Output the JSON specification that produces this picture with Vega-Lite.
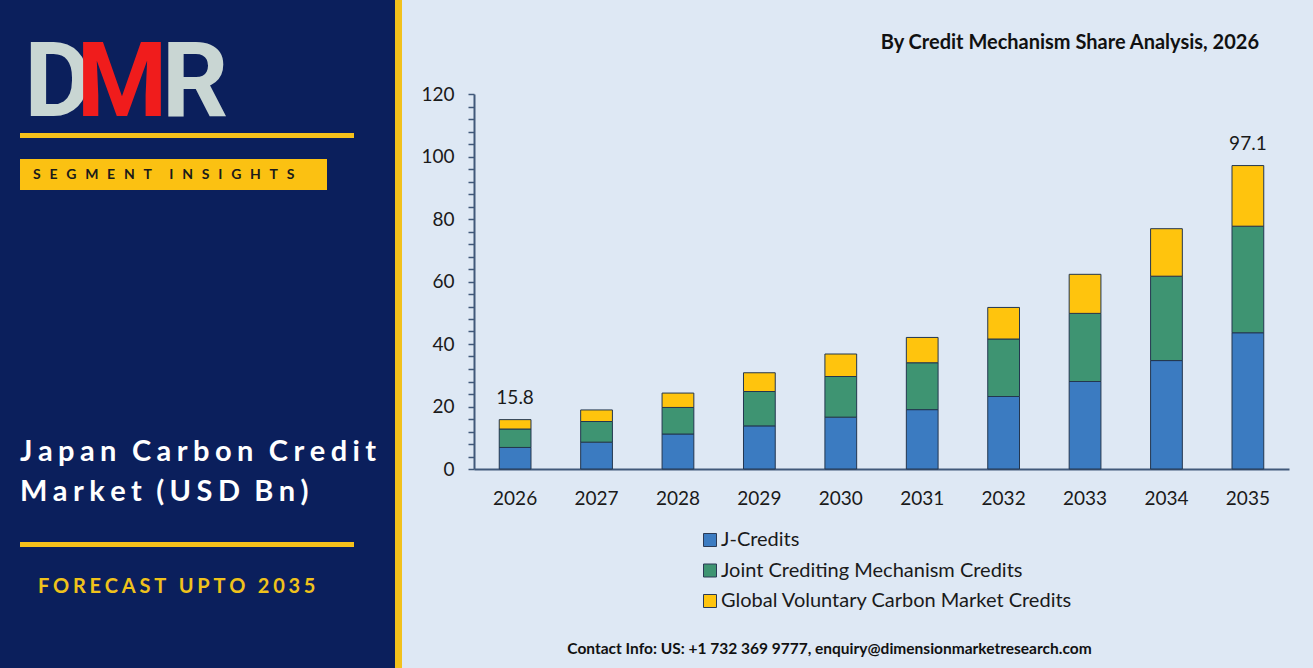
{
  "$schema": "https://vega.github.io/schema/vega-lite/v6.json",
  "background": "#dee8f4",
  "padding": {"left": 0, "top": 0, "right": 26, "bottom": 0},
  "spacing": 18,
  "config": {"view": {"stroke": null}, "font": "Lato"},
  "hconcat": [
    {
      "width": 402,
      "height": 668,
      "layer": [
        {
          "data": {"values": [{"part": "panel"}]},
          "mark": {"type": "rect", "color": "#0b1f5c"},
          "encoding": {
            "x": {"datum": 0, "type": "quantitative", "scale": {"domain": [0, 402], "nice": false, "zero": false}, "axis": null},
            "x2": {"datum": 395},
            "y": {"datum": 0, "type": "quantitative", "scale": {"domain": [668, 0], "nice": false, "zero": false}, "axis": null},
            "y2": {"datum": 668}
          }
        },
        {
          "data": {"values": [{"part": "strip"}]},
          "mark": {"type": "rect", "color": "#f2c11c"},
          "encoding": {
            "x": {"datum": 395, "type": "quantitative"},
            "x2": {"datum": 402},
            "y": {"datum": 0, "type": "quantitative"},
            "y2": {"datum": 668}
          }
        },
        {
          "data": {"values": [{"part": "line1"}]},
          "mark": {"type": "rect", "color": "#f6c11a"},
          "encoding": {
            "x": {"datum": 20, "type": "quantitative"},
            "x2": {"datum": 354},
            "y": {"datum": 133, "type": "quantitative"},
            "y2": {"datum": 138}
          }
        },
        {
          "data": {"values": [{"part": "line2"}]},
          "mark": {"type": "rect", "color": "#f6c11a"},
          "encoding": {
            "x": {"datum": 20, "type": "quantitative"},
            "x2": {"datum": 354},
            "y": {"datum": 542, "type": "quantitative"},
            "y2": {"datum": 547}
          }
        },
        {
          "data": {"values": [{"part": "box"}]},
          "mark": {"type": "rect", "color": "#fbc112"},
          "encoding": {
            "x": {"datum": 20, "type": "quantitative"},
            "x2": {"datum": 327},
            "y": {"datum": 159, "type": "quantitative"},
            "y2": {"datum": 190}
          }
        },
        {
          "data": {"values": [{"t": "D"}]},
          "mark": {"type": "text", "font": "Roboto", "fontWeight": "bold", "fontSize": 104, "color": "#c9d6d3", "align": "center", "baseline": "alphabetic"},
          "encoding": {
            "x": {"datum": 58, "type": "quantitative"},
            "y": {"datum": 116, "type": "quantitative"},
            "text": {"field": "t"}
          }
        },
        {
          "data": {"values": [{"t": "M"}]},
          "mark": {"type": "text", "font": "Roboto", "fontWeight": "bold", "fontSize": 104, "color": "#f01c1c", "align": "center", "baseline": "alphabetic"},
          "encoding": {
            "x": {"datum": 122, "type": "quantitative"},
            "y": {"datum": 116, "type": "quantitative"},
            "text": {"field": "t"}
          }
        },
        {
          "data": {"values": [{"t": "R"}]},
          "mark": {"type": "text", "font": "Roboto", "fontWeight": "bold", "fontSize": 104, "color": "#c9d6d3", "align": "center", "baseline": "alphabetic"},
          "encoding": {
            "x": {"datum": 195, "type": "quantitative"},
            "y": {"datum": 116, "type": "quantitative"},
            "text": {"field": "t"}
          }
        },
        {
          "data": {"values": [{"t": "S\u2002\u200a\u200aE\u2002\u200a\u200aG\u2002\u200a\u200aM\u2002\u200a\u200aE\u2002\u200a\u200aN\u2002\u200a\u200aT\u2003\u2002I\u2002\u200a\u200aN\u2002\u200a\u200aS\u2002\u200a\u200aI\u2002\u200a\u200aG\u2002\u200a\u200aH\u2002\u200a\u200aT\u2002\u200a\u200aS"}]},
          "mark": {"type": "text", "font": "Lato", "fontWeight": "bold", "fontSize": 14, "color": "#1a1a1a", "align": "left", "baseline": "middle"},
          "encoding": {
            "x": {"datum": 33, "type": "quantitative"},
            "y": {"datum": 175, "type": "quantitative"},
            "text": {"field": "t"}
          }
        },
        {
          "data": {"values": [{"t": "J\u2009\u200aa\u2009\u200ap\u2009\u200aa\u2009\u200an \u2009\u2006C\u2009\u200aa\u2009\u200ar\u2009\u200ab\u2009\u200ao\u2009\u200an \u2009\u2006C\u2009\u200ar\u2009\u200ae\u2009\u200ad\u2009\u200ai\u2009\u200at"}]},
          "mark": {"type": "text", "font": "Lato", "fontWeight": "bold", "fontSize": 29, "color": "#ffffff", "align": "left", "baseline": "alphabetic"},
          "encoding": {
            "x": {"datum": 20, "type": "quantitative"},
            "y": {"datum": 461, "type": "quantitative"},
            "text": {"field": "t"}
          }
        },
        {
          "data": {"values": [{"t": "M\u2009\u200aa\u2009\u200ar\u2009\u200ak\u2009\u200ae\u2009\u200at \u2009\u2009(\u2009\u200aU\u2009\u200aS\u2009\u200aD \u2009\u2009B\u2009\u200an\u2009\u200a)"}]},
          "mark": {"type": "text", "font": "Lato", "fontWeight": "bold", "fontSize": 29, "color": "#ffffff", "align": "left", "baseline": "alphabetic"},
          "encoding": {
            "x": {"datum": 20, "type": "quantitative"},
            "y": {"datum": 501, "type": "quantitative"},
            "text": {"field": "t"}
          }
        },
        {
          "data": {"values": [{"t": "F\u2009\u200aO\u2009\u200aR\u2009\u200aE\u2009\u200aC\u2009\u200aA\u2009\u200aS\u2009\u200aT\u2002\u2009U\u2009\u200aP\u2009\u200aT\u2009\u200aO\u2002\u20092\u2009\u200a0\u2009\u200a3\u2009\u200a5"}]},
          "mark": {"type": "text", "font": "Lato", "fontWeight": "bold", "fontSize": 20, "color": "#f0c21b", "align": "left", "baseline": "alphabetic"},
          "encoding": {
            "x": {"datum": 38, "type": "quantitative"},
            "y": {"datum": 593, "type": "quantitative"},
            "text": {"field": "t"}
          }
        }
      ]
    },
    {
      "width": 815,
      "height": 469,
      "title": {
        "text": "By Credit Mechanism Share Analysis, 2026",
        "anchor": "end",
        "dx": -30,
        "font": "Lato",
        "fontSize": 20,
        "fontWeight": "bold",
        "color": "#111111",
        "baseline": "bottom",
        "offset": -73
      },
      "layer": [
        {
          "data": {
            "values": [
              {"year": "2026", "segment": "J-Credits", "value": 6.9},
              {"year": "2026", "segment": "Joint Crediting Mechanism Credits", "value": 5.9},
              {"year": "2026", "segment": "Global Voluntary Carbon Market Credits", "value": 3.0},
              {"year": "2027", "segment": "J-Credits", "value": 8.6},
              {"year": "2027", "segment": "Joint Crediting Mechanism Credits", "value": 6.6},
              {"year": "2027", "segment": "Global Voluntary Carbon Market Credits", "value": 3.7},
              {"year": "2028", "segment": "J-Credits", "value": 11.2},
              {"year": "2028", "segment": "Joint Crediting Mechanism Credits", "value": 8.5},
              {"year": "2028", "segment": "Global Voluntary Carbon Market Credits", "value": 4.6},
              {"year": "2029", "segment": "J-Credits", "value": 13.8},
              {"year": "2029", "segment": "Joint Crediting Mechanism Credits", "value": 11.0},
              {"year": "2029", "segment": "Global Voluntary Carbon Market Credits", "value": 6.0},
              {"year": "2030", "segment": "J-Credits", "value": 16.6},
              {"year": "2030", "segment": "Joint Crediting Mechanism Credits", "value": 13.0},
              {"year": "2030", "segment": "Global Voluntary Carbon Market Credits", "value": 7.2},
              {"year": "2031", "segment": "J-Credits", "value": 19.0},
              {"year": "2031", "segment": "Joint Crediting Mechanism Credits", "value": 15.0},
              {"year": "2031", "segment": "Global Voluntary Carbon Market Credits", "value": 8.1},
              {"year": "2032", "segment": "J-Credits", "value": 23.2},
              {"year": "2032", "segment": "Joint Crediting Mechanism Credits", "value": 18.4},
              {"year": "2032", "segment": "Global Voluntary Carbon Market Credits", "value": 10.1},
              {"year": "2033", "segment": "J-Credits", "value": 28.0},
              {"year": "2033", "segment": "Joint Crediting Mechanism Credits", "value": 21.8},
              {"year": "2033", "segment": "Global Voluntary Carbon Market Credits", "value": 12.5},
              {"year": "2034", "segment": "J-Credits", "value": 34.7},
              {"year": "2034", "segment": "Joint Crediting Mechanism Credits", "value": 27.0},
              {"year": "2034", "segment": "Global Voluntary Carbon Market Credits", "value": 15.2},
              {"year": "2035", "segment": "J-Credits", "value": 43.6},
              {"year": "2035", "segment": "Joint Crediting Mechanism Credits", "value": 34.1},
              {"year": "2035", "segment": "Global Voluntary Carbon Market Credits", "value": 19.4}
            ]
          },
          "mark": {"type": "bar", "stroke": "#23364f", "strokeWidth": 1},
          "encoding": {
            "x": {
              "field": "year",
              "type": "ordinal",
              "scale": {"paddingInner": 0.61, "paddingOuter": 0.31},
              "axis": {
                "title": "Contact Info: US: +1 732 369 9777, enquiry@dimensionmarketresearch.com",
                "titleX": 355,
                "titleY": 179,
                "titleFont": "Lato",
                "titleFontSize": 15.5,
                "titleFontWeight": "bold",
                "titleColor": "#111111",
                "titleAlign": "center",
                "titleBaseline": "middle",
                "labelAngle": 0,
                "labelFont": "Lato",
                "labelFontSize": 19,
                "labelColor": "#1a1a1a",
                "labelPadding": 20,
                "ticks": false,
                "tickSize": 0,
                "domainColor": "#41597a",
                "domainWidth": 2
              }
            },
            "y": {
              "field": "value",
              "type": "quantitative",
              "stack": "zero",
              "scale": {"domain": [0, 120], "nice": false, "range": [469, 94]},
              "axis": {
                "title": null,
                "values": [0, 4, 8, 12, 16, 20, 24, 28, 32, 36, 40, 44, 48, 52, 56, 60, 64, 68, 72, 76, 80, 84, 88, 92, 96, 100, 104, 108, 112, 116, 120],
                "tickCount": 31,
                "labelExpr": "datum.value % 20 === 0 ? datum.label : ''",
                "labelOverlap": false,
                "grid": false,
                "tickSize": 6,
                "tickColor": "#41597a",
                "tickWidth": 1.5,
                "domainColor": "#41597a",
                "domainWidth": 2,
                "labelFont": "Lato",
                "labelFontSize": 19,
                "labelColor": "#1a1a1a",
                "labelPadding": 14
              }
            },
            "color": {
              "field": "segment",
              "type": "nominal",
              "scale": {
                "domain": ["J-Credits", "Joint Crediting Mechanism Credits", "Global Voluntary Carbon Market Credits"],
                "range": ["#3b7bc1", "#3e9472", "#ffc40d"]
              },
              "legend": {
                "orient": "none",
                "legendX": 700,
                "legendY": 530,
                "title": null,
                "direction": "vertical",
                "symbolType": "square",
                "symbolSize": 169,
                "symbolStrokeColor": "#2a3a55",
                "symbolStrokeWidth": 1,
                "labelFont": "Lato",
                "labelFontSize": 20,
                "labelColor": "#1a1a1a",
                "labelLimit": 600,
                "labelOffset": 1,
                "rowPadding": 10.5
              }
            },
            "order": {"field": "value", "type": "quantitative", "sort": "descending"}
          }
        },
        {
          "data": {"values": [{"year": "2026", "total": 15.8}, {"year": "2035", "total": 97.1}]},
          "mark": {"type": "text", "dy": -16, "baseline": "alphabetic", "font": "Lato", "fontSize": 19, "color": "#1a1a1a"},
          "encoding": {
            "x": {"field": "year", "type": "ordinal"},
            "y": {"field": "total", "type": "quantitative"},
            "text": {"field": "total", "type": "quantitative", "format": ".1f"}
          }
        }
      ]
    }
  ]
}
